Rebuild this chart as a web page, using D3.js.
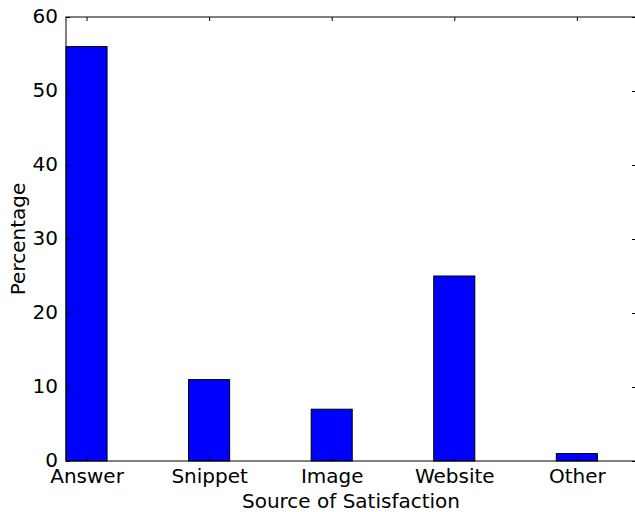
<!DOCTYPE html>
<html>
<head>
<meta charset="utf-8">
<script src="https://cdn.jsdelivr.net/npm/d3@7"></script>
<style>
  html, body { margin: 0; padding: 0; background: #fff; }
  svg { display: block; }
  text { font-family: "DejaVu Sans", sans-serif; fill: #000; }
</style>
</head>
<body>
<svg id="chart" width="635" height="512"></svg>
<script>
// Share of satisfied queries by where the satisfaction came from
const categories = ["Answer", "Snippet", "Image", "Website", "Other"];
const percentages = [56, 11, 7, 25, 1];
const yTicks = [0, 10, 20, 30, 40, 50, 60];

const margin = { left: 66, top: 17, right: 636, bottom: 461 };
const barWidth = 0.335;

const svg = d3.select("#chart");

const x = d3.scaleLinear().domain([0, 4.65]).range([margin.left, margin.right]);
const y = d3.scaleLinear().domain([0, 60]).range([margin.bottom, margin.top]);

// Bars
svg.append("g").selectAll("rect")
  .data(percentages)
  .join("rect")
  .attr("x", (d, i) => x(i))
  .attr("y", d => y(d))
  .attr("width", x(barWidth) - x(0))
  .attr("height", d => y(0) - y(d))
  .attr("fill", "#0000ff")
  .attr("stroke", "#000")
  .attr("stroke-width", 1);

const tickLen = 4;

// Left axis (ticks point inward), with mirrored ticks on the right
const yAxisL = d3.axisLeft(y).tickValues(yTicks).tickSize(-tickLen).tickPadding(8).tickFormat(d3.format("d"));
const gL = svg.append("g").attr("transform", `translate(${margin.left},0)`).call(yAxisL);
gL.select(".domain").remove();
gL.selectAll("text").attr("font-size", 20).attr("dy", "0.28em");

const yAxisR = d3.axisRight(y).tickValues(yTicks).tickSize(-tickLen).tickFormat("");
const gR = svg.append("g").attr("transform", `translate(${margin.right},0)`).call(yAxisR);
gR.select(".domain").remove();

// Bottom axis with category labels at bar centres, mirrored ticks on top
const centers = categories.map((c, i) => i + barWidth / 2);
const xAxisB = d3.axisBottom(x).tickValues(centers).tickSize(-tickLen).tickPadding(8)
  .tickFormat((d, i) => categories[i]);
const gB = svg.append("g").attr("transform", `translate(0,${margin.bottom})`).call(xAxisB);
gB.select(".domain").remove();
gB.selectAll("text").attr("font-size", 20);

const xAxisT = d3.axisTop(x).tickValues(centers).tickSize(-tickLen).tickFormat("");
const gT = svg.append("g").attr("transform", `translate(0,${margin.top})`).call(xAxisT);
gT.select(".domain").remove();

svg.selectAll(".tick line").attr("stroke", "#000").attr("stroke-width", 1);

// Frame
svg.append("rect")
  .attr("x", margin.left).attr("y", margin.top)
  .attr("width", margin.right - margin.left)
  .attr("height", margin.bottom - margin.top)
  .attr("fill", "none").attr("stroke", "#000").attr("stroke-width", 1);

// Axis titles
svg.append("text")
  .attr("x", (margin.left + margin.right) / 2)
  .attr("y", 508)
  .attr("text-anchor", "middle")
  .attr("font-size", 20)
  .text("Source of Satisfaction");

svg.append("text")
  .attr("transform", `translate(25,${(margin.top + margin.bottom) / 2}) rotate(-90)`)
  .attr("text-anchor", "middle")
  .attr("font-size", 20)
  .text("Percentage");
</script>
</body>
</html>
